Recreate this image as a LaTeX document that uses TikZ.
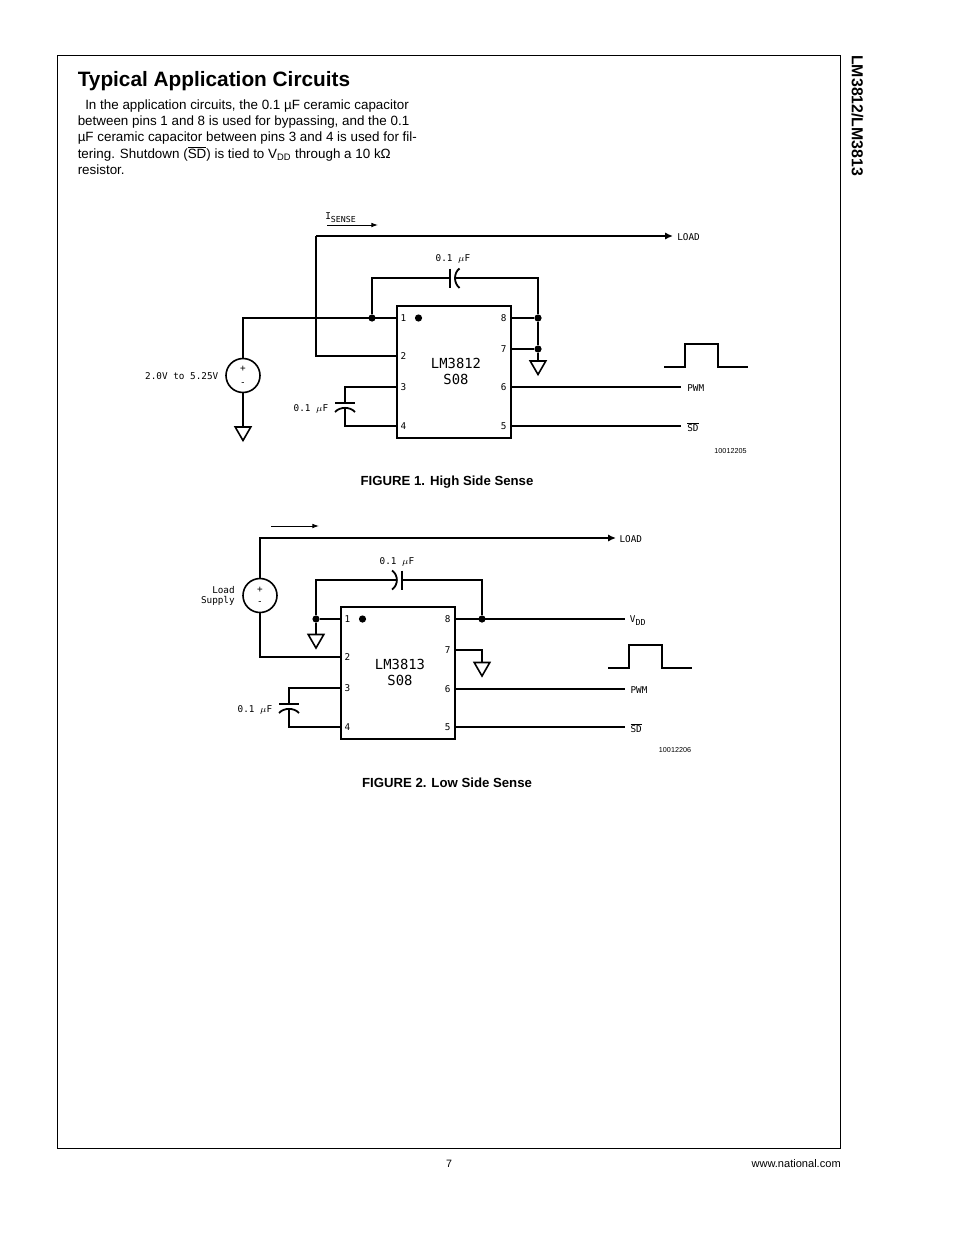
\documentclass[tikz,border=0pt]{standalone}
\usepackage{fontspec}
\setmainfont{Liberation Sans}
\newfontfamily\cadfont{DejaVu Sans Mono}
\usetikzlibrary{positioning,arrows.meta,shapes.geometric}

\tikzset{
  wire/.style={line width=1.35pt,line join=miter},
  loadwire/.style={wire,-{Latex[length=6pt,width=5.5pt]}},
  sensearrow/.style={line width=0.7pt,-{Latex[length=5pt,width=3.5pt]}},
  chipbox/.style={draw,line width=2.2pt,minimum width=85.5pt,minimum height=99pt,inner sep=0pt},
  srccircle/.style={draw,circle,line width=1.2pt,minimum size=25.5pt,inner sep=0pt},
  gndtri/.style={draw,regular polygon,regular polygon sides=3,shape border rotate=180,line width=1.2pt,minimum size=13.5pt,inner sep=0pt,outer sep=0pt,anchor=side 2},
  jdot/.style={fill,circle,minimum size=5.4pt,inner sep=0pt},
  plate/.style={line width=1.35pt},
  cadlabel/.style={font=\cadfont\fontsize{7}{8}\selectfont,inner sep=0pt,yshift=-0.7pt},
  pinnum/.style={font=\cadfont\fontsize{7}{8}\selectfont,inner sep=0pt},
  chipname/.style={font=\cadfont\fontsize{10.4}{12}\selectfont,inner sep=0pt},
  bodyline/.style={font=\fontsize{10.05}{12}\selectfont,inner sep=0pt,anchor=west},
  capline/.style={font=\bfseries\fontsize{9.9}{11}\selectfont,inner sep=0pt},
  tinylabel/.style={font=\fontsize{5.4}{7}\selectfont,inner sep=0pt}
}

\begin{document}
\begin{tikzpicture}[x=0.75pt,y=-0.75pt]
  \useasboundingbox (0,0) rectangle (954,1235);
  \draw[line width=0.6pt] (57,55) rectangle (840,1148);

  % page text
  \node[anchor=west,inner sep=0pt,font=\bfseries\fontsize{15.6}{18}\selectfont] (title) at (77.5,81.5) {Typical Application Circuits};
  \node[bodyline] (txt1) at (85,106) {In the application circuits, the 0.1 µF ceramic capacitor};
  \node[bodyline] (txt2) at (77.5,122) {between pins 1 and 8 is used for bypassing, and the 0.1};
  \node[bodyline] (txt3) at (77.5,138) {µF ceramic capacitor between pins 3 and 4 is used for fil-};
  \node[bodyline] (txt4) at (77.5,154) {tering. Shutdown ($\overline{\mbox{SD}}$) is tied to V\textsubscript{DD} through a 10 kΩ};
  \node[bodyline] (txt5) at (77.5,170) {resistor.};
  \node[rotate=-90,anchor=west,inner sep=0pt,font=\bfseries\fontsize{11.9}{13}\selectfont] (side) at (857.5,55) {LM3812/LM3813};
  \node[tinylabel,font=\fontsize{8}{10}\selectfont] (pageno) at (449,1164) {7};
  \node[tinylabel,anchor=east,font=\fontsize{8.3}{10}\selectfont] (web) at (841,1164) {www.national.com};

  % figure 1
  \node[chipbox] (chipA) at (454,372) {};
  \node[chipname] (chipAa) at (456,363) {LM3812};
  \node[chipname,below=4.2pt of chipAa] (chipAb) {S08};
  \node[jdot] (markA) at (418.5,318) {};
  \coordinate (a1) at (chipA.west |- 0,318);
  \coordinate (a2) at (chipA.west |- 0,356);
  \coordinate (a3) at (chipA.west |- 0,387);
  \coordinate (a4) at (chipA.west |- 0,426);
  \coordinate (a8) at (chipA.east |- 0,318);
  \coordinate (a7) at (chipA.east |- 0,349);
  \coordinate (a6) at (chipA.east |- 0,387);
  \coordinate (a5) at (chipA.east |- 0,426);
  \foreach \p in {1,2,3,4} \node[pinnum,right=3.6pt of a\p] (na\p) {\p};
  \foreach \p in {8,7,6,5} \node[pinnum,left=4.2pt of a\p] (na\p) {\p};

  \node[srccircle] (srcA) at (243,375.5) {};
  \node[cadlabel] (srcAp) at (243,368) {+};
  \node[cadlabel] (srcAm) at (243,383) {-};
  \node[cadlabel,left=5pt of srcA] (srcAl) {2.0V to 5.25V};
  \node[gndtri] (gndA) at (243,427) {};
  \draw[wire] (srcA.north) |- (a1);
  \draw[wire] (srcA.south) -- (gndA.side 2);

  \node[jdot] (jA1) at (372,318) {};
  \node[jdot] (jA8) at (538,318) {};
  \node[jdot] (jA7) at (538,349) {};
  \node[gndtri] (gndB) at (538,361) {};
  \draw[wire] (a8) -- (jA8);
  \draw[wire] (a7) -- (jA7);
  \draw[wire] (jA8) -- (jA7) -- (gndB.side 2);

  % bypass cap
  \coordinate (capAl) at (450,278);
  \coordinate (capAr) at (455,278);
  \draw[plate] (450,268.5) -- (450,288);
  \draw[plate] (459.5,268.5) .. controls (453.5,273) and (453.5,283) .. (459.5,288);
  \draw[wire] (jA1) |- (capAl);
  \draw[wire] (capAr) -| (jA8);
  \node[cadlabel] (capAt) at (453,258) {0.1 $\mu$F};

  % load line
  \coordinate (loadA) at (673,236);
  \coordinate (cornerA) at (316,236);
  \draw[wire] (a2) -| (cornerA);
  \draw[loadwire] (cornerA) -- (loadA);
  \node[cadlabel,right=3pt of loadA] (loadAl) {LOAD};
  \coordinate (senseAa) at (327,225);
  \coordinate (senseAb) at (378,225);
  \draw[sensearrow] (senseAa) -- (senseAb);
  \node[cadlabel,anchor=west] (senseAl) at (325,216.5) {I\raisebox{-2pt}{\fontsize{6.2}{7}\selectfont SENSE}};

  % filter cap
  \coordinate (capBt) at (345,403);
  \coordinate (capBb) at (345,408);
  \draw[plate] (335,403) -- (355,403);
  \draw[plate] (335,412) .. controls (340,406.5) and (350,406.5) .. (355,412);
  \draw[wire] (a3) -| (capBt);
  \draw[wire] (a4) -| (capBb);
  \node[cadlabel] (capBl) at (311,408) {0.1 $\mu$F};

  % pwm and sd
  \coordinate (pwmA) at (681,387);
  \coordinate (sdA) at (681,426);
  \draw[wire] (a6) -- (pwmA);
  \draw[wire] (a5) -- (sdA);
  \node[cadlabel,right=4.5pt of pwmA] (pwmAl) {PWM};
  \node[cadlabel,right=4.5pt of sdA] (sdAl) {$\overline{\mbox{SD}}$};
  \coordinate (pulseA) at (664,367);
  \draw[wire] (pulseA) -- ++(21,0) -- ++(0,-23) -- ++(33,0) -- ++(0,23) -- ++(30,0);
  \node[tinylabel] (numA) at (730.5,451) {10012205};
  \node[capline] (figA) at (447,482) {FIGURE 1. High Side Sense};

  % figure 2
  \node[chipbox] (chipB) at (398,673) {};
  \node[chipname] (chipBa) at (400,664) {LM3813};
  \node[chipname,below=4.2pt of chipBa] (chipBb) {S08};
  \node[jdot] (markB) at (362.5,619) {};
  \coordinate (b1) at (chipB.west |- 0,619);
  \coordinate (b2) at (chipB.west |- 0,657);
  \coordinate (b3) at (chipB.west |- 0,688);
  \coordinate (b4) at (chipB.west |- 0,727);
  \coordinate (b8) at (chipB.east |- 0,619);
  \coordinate (b7) at (chipB.east |- 0,650);
  \coordinate (b6) at (chipB.east |- 0,689);
  \coordinate (b5) at (chipB.east |- 0,727);
  \foreach \p in {1,2,3,4} \node[pinnum,right=3.6pt of b\p] (nb\p) {\p};
  \foreach \p in {8,7,6,5} \node[pinnum,left=4.2pt of b\p] (nb\p) {\p};

  \node[srccircle] (srcB) at (260,595.5) {};
  \node[cadlabel] (srcBp) at (260,588.5) {+};
  \node[cadlabel] (srcBm) at (260,602.5) {-};
  \node[cadlabel,anchor=east] (srcBa) at (235,589) {Load};
  \node[cadlabel,anchor=east] (srcBb) at (235,600) {Supply};
  \coordinate (loadB) at (616,538);
  \draw[wire] (srcB.south) |- (b2);
  \draw[loadwire] (srcB.north) |- (loadB);
  \node[cadlabel,right=2.5pt of loadB] (loadBl) {LOAD};
  \coordinate (senseBa) at (271,526);
  \coordinate (senseBb) at (319,526);
  \draw[sensearrow] (senseBa) -- (senseBb);

  \node[jdot] (jB1) at (316,619) {};
  \node[jdot] (jB8) at (482,619) {};
  \node[gndtri] (gndC) at (316,634.5) {};
  \draw[wire] (jB1) -- (b1);
  \draw[wire] (jB1) -- (gndC.side 2);

  % bypass cap
  \coordinate (capCl) at (397,580);
  \coordinate (capCr) at (402,580);
  \draw[plate] (402,570.5) -- (402,589.5);
  \draw[plate] (392,570.5) .. controls (398.5,575) and (398.5,585) .. (392,589.5);
  \draw[wire] (jB1) |- (capCl);
  \draw[wire] (capCr) -| (jB8);
  \node[cadlabel] (capCt) at (397,561) {0.1 $\mu$F};

  \coordinate (vddB) at (625,619);
  \draw[wire] (b8) -- (vddB);
  \node[cadlabel,right=3.5pt of vddB,yshift=-0.6pt] (vddBl) {V\raisebox{-2pt}{\fontsize{6.2}{7}\selectfont DD}};
  \node[gndtri] (gndD) at (482,662.5) {};
  \draw[wire] (b7) -| (gndD.side 2);

  % filter cap
  \coordinate (capDt) at (289,704);
  \coordinate (capDb) at (289,709);
  \draw[plate] (279,704) -- (299,704);
  \draw[plate] (279,713) .. controls (284,707.5) and (294,707.5) .. (299,713);
  \draw[wire] (b3) -| (capDt);
  \draw[wire] (b4) -| (capDb);
  \node[cadlabel] (capDl) at (255,709.5) {0.1 $\mu$F};

  % pwm and sd
  \coordinate (pwmB) at (625,689);
  \coordinate (sdB) at (625,727);
  \draw[wire] (b6) -- (pwmB);
  \draw[wire] (b5) -- (sdB);
  \node[cadlabel,right=4pt of pwmB] (pwmBl) {PWM};
  \node[cadlabel,right=4pt of sdB] (sdBl) {$\overline{\mbox{SD}}$};
  \coordinate (pulseB) at (608,668);
  \draw[wire] (pulseB) -- ++(21,0) -- ++(0,-23) -- ++(33,0) -- ++(0,23) -- ++(30,0);
  \node[tinylabel] (numB) at (675,750) {10012206};
  \node[capline] (figB) at (447,783) {FIGURE 2. Low Side Sense};
\end{tikzpicture}
\end{document}
